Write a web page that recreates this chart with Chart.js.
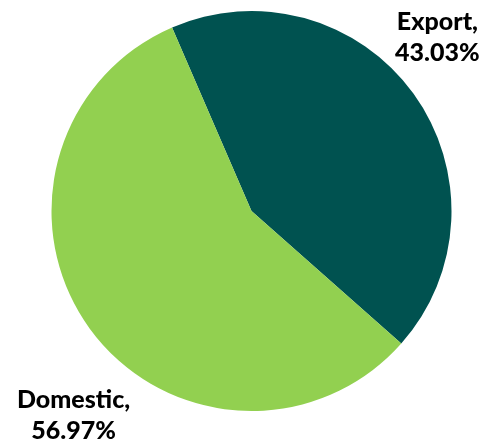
<!DOCTYPE html>
<html>
<head>
<meta charset="utf-8">
<script src="https://cdn.jsdelivr.net/npm/chart.js@4.4.1/dist/chart.umd.min.js"></script>
<style>
	html, body { margin: 0; padding: 0; background: #fff; }
	#wrap { width: 484px; height: 447px; }
</style>
</head>
<body>
<div id="wrap"><canvas id="pie"></canvas></div>
<script>
// values
const categories = ['Export', 'Domestic'];
const shares = [43.03, 56.97];
const sliceColours = ['#005250', '#92D050'];

// where each label sits, relative to the rim point at the slice's middle angle
const labelOffsets = [
	{ dx: 24, dy: -57 },
	{ dx: -16, dy: 87 }
];

const sliceLabels = {
	id: 'sliceLabels',
	afterDatasetsDraw(chart) {
		const ctx = chart.ctx;
		const meta = chart.getDatasetMeta(0);
		ctx.save();
		ctx.font = '900 25px Lato, "Open Sans", sans-serif';
		ctx.fillStyle = '#000';
		ctx.textAlign = 'center';
		ctx.textBaseline = 'middle';
		meta.data.forEach((arc, i) => {
			const p = arc.getProps(['x', 'y', 'startAngle', 'endAngle', 'outerRadius'], true);
			const mid = (p.startAngle + p.endAngle) / 2;
			const x = p.x + Math.cos(mid) * p.outerRadius + labelOffsets[i].dx;
			const y = p.y + Math.sin(mid) * p.outerRadius + labelOffsets[i].dy;
			const lines = [categories[i] + ',', shares[i].toFixed(2) + '%'];
			ctx.fillText(lines[0], x, y - 15);
			ctx.fillText(lines[1], x, y + 16);
		});
		ctx.restore();
	}
};

new Chart(document.getElementById('pie'), {
	type: 'pie',
	data: {
		labels: categories,
		datasets: [{
			data: shares,
			backgroundColor: sliceColours,
			borderWidth: 0
		}]
	},
	options: {
		responsive: true,
		maintainAspectRatio: false,
		animation: false,
		rotation: -23.4,
		layout: {
			padding: { left: 51.5, right: 32.5, top: 11, bottom: 36 }
		},
		plugins: {
			legend: { display: false },
			tooltip: { enabled: false }
		}
	},
	plugins: [sliceLabels]
});
</script>
</body>
</html>
